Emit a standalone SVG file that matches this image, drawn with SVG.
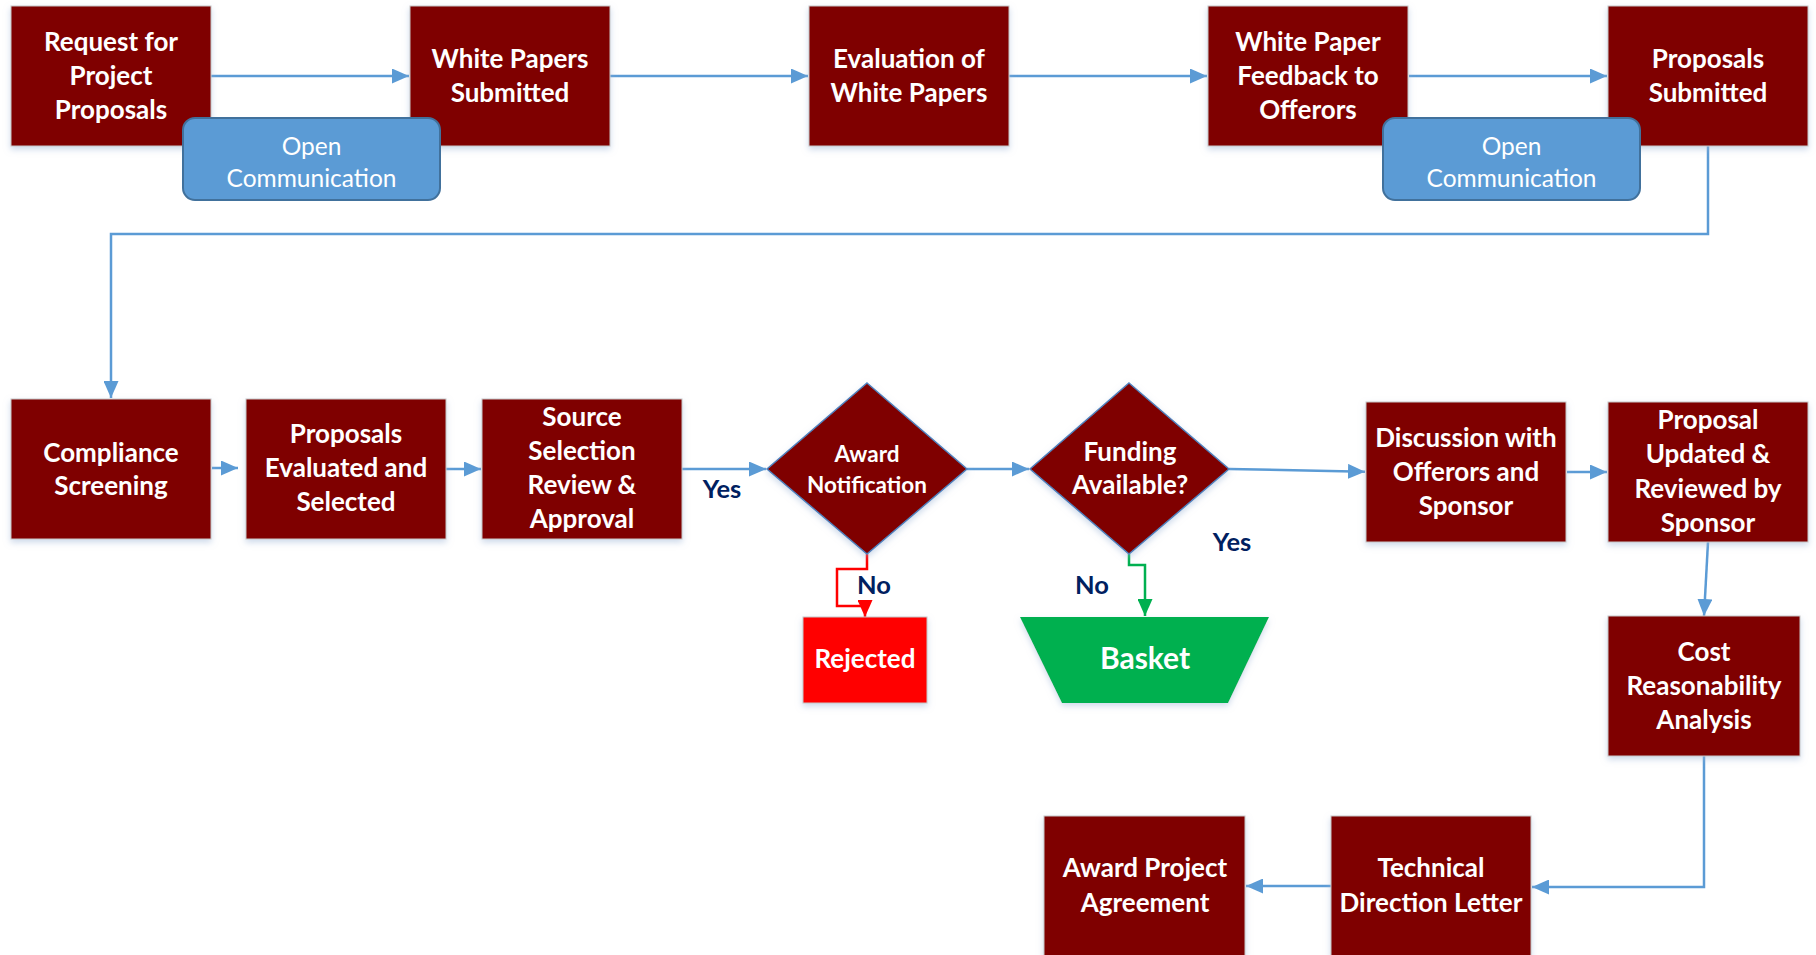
<svg xmlns="http://www.w3.org/2000/svg" width="1816" height="955" viewBox="0 0 1816 955">
<style>
  .box { fill: #7F0000; stroke: #C8C8C8; stroke-width: 1; filter: url(#sh); }
  .dia { fill: #7F0000; stroke: #4F81BD; stroke-width: 1.5; filter: url(#sh); }
  .oc { fill: #5B9BD5; stroke: #41719C; stroke-width: 2; }
  .t { font-family: Lato, "Liberation Sans", sans-serif; font-weight: 700; font-size: 26px; fill: #FFFFFF; text-anchor: middle; }
  .ts { font-family: Lato, "Liberation Sans", sans-serif; font-weight: 700; font-size: 22.5px; fill: #FFFFFF; text-anchor: middle; }
  .tr { font-family: Lato, "Liberation Sans", sans-serif; font-weight: 400; font-size: 24.5px; fill: #FFFFFF; text-anchor: middle; }
  .lbl { font-family: Lato, "Liberation Sans", sans-serif; font-weight: 700; font-size: 25.5px; fill: #002060; text-anchor: middle; }
  .c { fill: none; stroke: #5B9BD5; stroke-width: 2.5; }
  .cb { marker-end: url(#ab); }
</style>
<defs>
  <filter id="sh" x="-10%" y="-10%" width="120%" height="130%">
    <feDropShadow dx="0" dy="3" stdDeviation="3" flood-color="#9DB5D6" flood-opacity="0.5"/>
  </filter>
  <marker id="ab" markerUnits="userSpaceOnUse" markerWidth="17" markerHeight="15" refX="17" refY="7.5" orient="auto">
    <path d="M0,0 L17,7.5 L0,15 z" fill="#5B9BD5"/>
  </marker>
  <marker id="ar" markerUnits="userSpaceOnUse" markerWidth="17" markerHeight="15" refX="17" refY="7.5" orient="auto">
    <path d="M0,0 L17,7.5 L0,15 z" fill="#FF0000"/>
  </marker>
  <marker id="ag" markerUnits="userSpaceOnUse" markerWidth="17" markerHeight="15" refX="17" refY="7.5" orient="auto">
    <path d="M0,0 L17,7.5 L0,15 z" fill="#00B050"/>
  </marker>
</defs>
<rect x="0" y="0" width="1816" height="955" fill="#FFFFFF"/>

<g id="connectors">
  <path class="c cb" d="M211,76 H409"/>
  <path class="c cb" d="M610,76 H808"/>
  <path class="c cb" d="M1009,76 H1207"/>
  <path class="c cb" d="M1409,76 H1607"/>
  <path class="c cb" d="M1708,146 V234 H111 V398"/>
  <path class="c cb" d="M212,468 H238"/>
  <path class="c cb" d="M446,469 H481"/>
  <path class="c cb" d="M682,469 H766"/>
  <path class="c cb" d="M967,469 H1029"/>
  <path class="c cb" d="M1229,469 L1365,471.7"/>
  <path class="c cb" d="M1567,472 H1607"/>
  <path class="c cb" d="M1708,542 L1704,616"/>
  <path class="c cb" d="M1704,756 V887 H1532"/>
  <path class="c cb" d="M1331,886 H1246"/>
  <path fill="none" stroke="#FF0000" stroke-width="2.5" marker-end="url(#ar)" d="M867,554 V569 H837 V606 H865 V617"/>
  <path fill="none" stroke="#00B050" stroke-width="2.5" marker-end="url(#ag)" d="M1129,554 V565 H1145 V616"/>
  <text class="lbl" x="722" y="498">Yes</text>
  <text class="lbl" x="1232" y="551">Yes</text>
  <text class="lbl" x="874" y="594">No</text>
  <text class="lbl" x="1092" y="594">No</text>
</g>

<g id="n-request">
  <rect class="box" x="11" y="6" width="200" height="140"/>
  <text class="t" x="111" y="51">Request for</text>
  <text class="t" x="111" y="85">Project</text>
  <text class="t" x="111" y="119">Proposals</text>
</g>
<g id="n-whitepapers">
  <rect class="box" x="410" y="6" width="200" height="140"/>
  <text class="t" x="510" y="68">White Papers</text>
  <text class="t" x="510" y="102">Submitted</text>
</g>
<g id="n-evaluation">
  <rect class="box" x="809" y="6" width="200" height="140"/>
  <text class="t" x="909" y="68">Evaluation of</text>
  <text class="t" x="909" y="102">White Papers</text>
</g>
<g id="n-feedback">
  <rect class="box" x="1208" y="6" width="200" height="140"/>
  <text class="t" x="1308" y="51">White Paper</text>
  <text class="t" x="1308" y="85">Feedback to</text>
  <text class="t" x="1308" y="119">Offerors</text>
</g>
<g id="n-proposals">
  <rect class="box" x="1608" y="6" width="200" height="140"/>
  <text class="t" x="1708" y="68">Proposals</text>
  <text class="t" x="1708" y="102">Submitted</text>
</g>
<g id="n-opencomm1">
  <rect class="oc" x="183" y="118" width="257" height="82" rx="12"/>
  <text class="tr" x="311.5" y="155">Open</text>
  <text class="tr" x="311.5" y="187">Communication</text>
</g>
<g id="n-opencomm2">
  <rect class="oc" x="1383" y="118" width="257" height="82" rx="12"/>
  <text class="tr" x="1511.5" y="155">Open</text>
  <text class="tr" x="1511.5" y="187">Communication</text>
</g>

<g id="n-compliance">
  <rect class="box" x="11" y="399" width="200" height="140"/>
  <text class="t" x="111" y="462">Compliance</text>
  <text class="t" x="111" y="495">Screening</text>
</g>
<g id="n-evaluated">
  <rect class="box" x="246" y="399" width="200" height="140"/>
  <text class="t" x="346" y="443">Proposals</text>
  <text class="t" x="346" y="477">Evaluated and</text>
  <text class="t" x="346" y="511">Selected</text>
</g>
<g id="n-source">
  <rect class="box" x="482" y="399" width="200" height="140"/>
  <text class="t" x="582" y="426">Source</text>
  <text class="t" x="582" y="460">Selection</text>
  <text class="t" x="582" y="494">Review &amp;</text>
  <text class="t" x="582" y="528">Approval</text>
</g>
<g id="n-award">
  <polygon class="dia" points="867,383 967,469 867,554 767,469"/>
  <text class="ts" x="867" y="462">Award</text>
  <text class="ts" x="867" y="493">Notification</text>
</g>
<g id="n-funding">
  <polygon class="dia" points="1129,383 1229,469 1129,554 1030,469"/>
  <text class="t" x="1130" y="461">Funding</text>
  <text class="t" x="1130" y="494">Available?</text>
</g>
<g id="n-rejected">
  <rect x="803" y="617" width="124" height="86" fill="#FF0000" stroke="#C8C8C8" stroke-width="1" filter="url(#sh)"/>
  <text class="t" x="865" y="668">Rejected</text>
</g>
<g id="n-basket">
  <polygon points="1020,617 1269,617 1228,703 1062,703" fill="#00B050" filter="url(#sh)"/>
  <text class="t" x="1145" y="669" style="font-size:30px">Basket</text>
</g>
<g id="n-discussion">
  <rect class="box" x="1366" y="402" width="200" height="140"/>
  <text class="t" x="1466" y="447">Discussion with</text>
  <text class="t" x="1466" y="481">Offerors and</text>
  <text class="t" x="1466" y="515">Sponsor</text>
</g>
<g id="n-updated">
  <rect class="box" x="1608" y="402" width="200" height="140"/>
  <text class="t" x="1708" y="429">Proposal</text>
  <text class="t" x="1708" y="463">Updated &amp;</text>
  <text class="t" x="1708" y="497.5">Reviewed by</text>
  <text class="t" x="1708" y="532">Sponsor</text>
</g>
<g id="n-cost">
  <rect class="box" x="1608" y="616" width="192" height="140"/>
  <text class="t" x="1704" y="661">Cost</text>
  <text class="t" x="1704" y="695">Reasonability</text>
  <text class="t" x="1704" y="729">Analysis</text>
</g>
<g id="n-technical">
  <rect class="box" x="1331" y="816" width="200" height="140"/>
  <text class="t" x="1431" y="877">Technical</text>
  <text class="t" x="1431" y="912">Direction Letter</text>
</g>
<g id="n-agreement">
  <rect class="box" x="1044" y="816" width="201" height="140"/>
  <text class="t" x="1145" y="877">Award Project</text>
  <text class="t" x="1145" y="912">Agreement</text>
</g>
</svg>
